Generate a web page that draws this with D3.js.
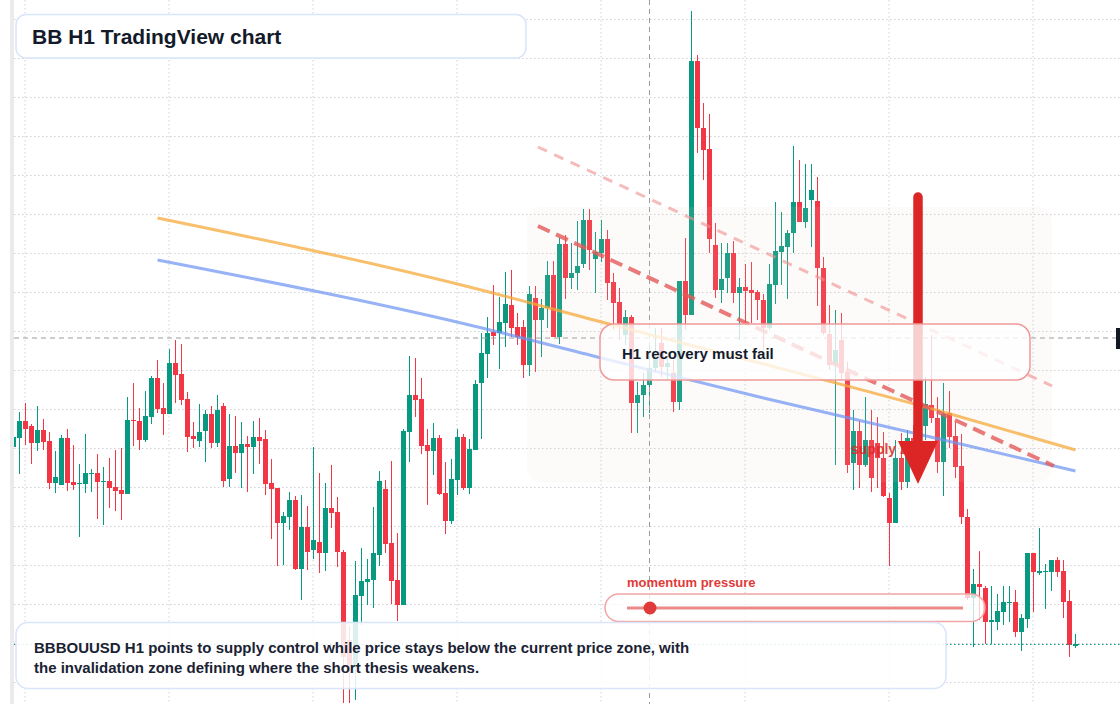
<!DOCTYPE html>
<html>
<head>
<meta charset="utf-8">
<script src="https://cdn.jsdelivr.net/npm/d3@7"></script>
<style>
  body { margin: 0; background: #fff; }
  svg { display: block; font-family: "Liberation Sans", Arial, sans-serif; }
</style>
</head>
<body>
<script>
const W = 1120, H = 704

// candles, one per hour, oldest first
const opens = [3.53,3.62,3.79,3.74,3.57,3.70,3.59,3.17,3.15,3.62, 3.18,3.16,3.16,3.26,3.27,3.18,3.19,3.13,3.10,3.06,
  3.80,3.79,3.60,3.83,4.22,3.92,3.86,4.37,4.26,4.01, 3.64,3.59,3.69,3.86,3.57,3.94,3.21,3.54,3.47,3.56,
  3.53,3.63,3.61,3.17,3.12,2.77,2.83,3.00,2.31,2.73, 2.50,2.58,2.47,2.92,2.88,2.48,1.60,1.33,2.04,2.18,
  2.20,2.45,3.11,2.57,2.20,1.95,3.68,4.05,4.01,3.55, 3.49,3.62,3.07,2.79,3.20,3.63,3.12,3.50,4.17,4.46,
  4.68,4.67,4.77,4.95,4.73,4.73,4.35,5.02,4.80,4.92, 5.25,4.63,5.56,5.22,5.27,5.36,5.80,5.41,5.47,5.61,
  5.18,4.98,4.65,4.83,3.97,4.05,4.15,4.32,4.57,4.33, 4.27,3.98,5.19,4.85,7.39,6.72,6.51,5.55,5.10,5.22,
  5.47,5.07,5.13,5.10,5.08,5.00,4.72,5.15,5.48,5.53, 5.67,5.98,5.78,6.00,5.99,5.32,4.66,4.35,4.60,4.28,
  3.37,3.69,3.35,3.60,3.57,3.42,3.02,2.77,3.42,3.18, 3.62,3.45,3.74,3.95,3.82,3.38,3.87,3.64,3.34,2.83,
  2.02,2.16,2.12,1.78,1.78,1.88,1.97,1.98,1.68,1.81, 2.47,2.27,2.28,2.28,2.40,2.29,1.99,1.54]
const highs = [3.64,3.88,3.97,3.76,3.94,3.81,3.68,3.49,3.65,3.71, 3.55,3.36,3.66,3.31,3.46,3.33,3.42,3.50,3.52,4.03,
  4.17,3.92,4.09,4.24,4.40,4.17,4.51,4.60,4.56,4.08, 3.78,3.96,3.90,3.94,4.05,3.97,3.86,3.84,3.78,3.64,
  3.79,3.82,3.70,3.41,3.12,2.88,3.08,3.04,3.05,2.94, 3.53,3.27,3.17,3.35,3.03,2.50,1.74,2.39,2.52,2.41,
  2.93,3.29,3.20,3.39,2.67,3.71,4.44,4.42,4.22,3.71, 3.77,3.65,3.38,3.41,3.71,3.66,3.61,4.20,4.67,4.83,
  5.15,5.03,5.28,5.30,4.87,4.80,5.14,5.14,5.01,5.39, 5.39,5.62,5.65,5.57,5.79,5.91,5.91,5.68,5.80,5.70,
  5.27,5.12,4.90,4.85,4.18,4.27,4.53,4.72,4.72,4.45, 4.40,5.19,5.62,7.89,7.45,6.97,6.86,5.77,5.57,5.57,
  5.59,5.22,5.36,5.38,5.10,5.06,5.36,5.98,5.88,5.70, 6.54,6.40,6.36,6.36,6.23,5.43,4.95,4.90,4.87,4.38,
  3.90,3.79,4.03,3.90,3.83,3.68,3.07,3.60,3.67,3.70, 3.75,4.00,4.23,4.65,4.03,4.17,4.09,3.78,3.66,2.91,
  2.31,2.49,2.14,2.14,2.06,2.14,2.14,2.10,1.86,2.47, 2.47,2.72,2.36,2.40,2.43,2.40,2.10,1.66]
const lows = [3.52,3.26,3.55,3.36,3.49,3.50,3.11,3.07,3.15,3.09, 3.10,2.63,3.07,3.08,2.81,2.75,2.92,2.89,2.80,3.06,
  3.54,3.50,3.58,3.76,3.87,3.65,3.86,3.97,3.95,3.48, 3.52,3.53,3.38,3.52,3.53,3.13,3.13,3.27,3.12,3.08,
  3.26,3.36,3.05,2.61,2.34,2.35,2.70,2.30,2.00,2.30, 2.41,2.27,2.29,2.72,2.33,0.97,0.97,1.00,1.75,1.95,
  1.92,2.34,2.47,1.96,1.79,1.95,3.38,3.83,3.46,2.95, 3.25,3.05,2.66,2.76,3.05,3.10,3.06,3.50,3.61,4.22,
  4.55,4.31,4.53,4.63,4.55,4.22,4.24,4.28,4.43,4.72, 4.63,4.56,5.01,5.11,5.10,5.32,5.30,5.07,5.38,5.00,
  4.70,4.60,4.55,3.67,3.67,3.83,3.87,4.28,4.23,4.20, 3.88,3.90,4.70,4.85,6.47,6.20,5.47,5.02,4.97,5.07,
  4.97,4.60,4.77,4.77,4.80,4.50,4.70,4.96,5.15,5.01, 5.47,5.78,5.72,5.53,4.94,4.65,4.30,3.35,4.20,3.27,
  3.10,3.12,3.33,3.08,3.12,3.03,2.34,2.77,3.10,3.12, 3.30,3.38,3.60,3.77,3.27,3.04,3.52,3.22,2.76,2.00,
  1.53,1.80,1.56,1.56,1.70,1.75,1.78,1.63,1.49,1.72, 1.88,2.25,1.91,2.09,2.23,1.82,1.43,1.52]
const closes = [3.63,3.79,3.71,3.57,3.70,3.58,3.17,3.23,3.62,3.17, 3.15,3.17,3.27,3.27,3.18,3.19,3.12,3.09,3.06,3.80,
  3.79,3.60,3.84,4.22,3.91,3.86,4.37,4.25,4.00,3.63, 3.61,3.68,3.86,3.57,3.90,3.19,3.54,3.47,3.56,3.53,
  3.63,3.59,3.16,3.11,2.77,2.84,3.00,2.31,2.73,2.48, 2.60,2.47,2.92,2.87,2.48,1.43,1.35,2.05,2.19,2.21,
  2.47,3.19,2.56,2.19,1.95,3.69,4.05,4.00,3.54,3.49, 3.62,3.06,2.79,3.21,3.63,3.12,3.51,4.16,4.47,4.67,
  4.64,4.78,4.96,4.72,4.63,4.35,5.06,4.80,4.92,5.25, 4.63,5.56,5.22,5.27,5.34,5.80,5.50,5.48,5.61,5.17,
  4.97,4.76,4.83,3.97,4.05,4.15,4.32,4.43,4.33,4.37, 3.98,5.19,4.85,7.39,6.72,6.50,5.61,5.10,5.21,5.47,
  5.07,5.13,5.09,5.07,5.00,4.72,5.16,5.49,5.54,5.67, 5.98,5.78,5.92,6.10,5.32,4.67,4.35,4.50,4.27,3.35,
  3.69,3.35,3.60,3.22,3.42,3.04,2.77,3.42,3.18,3.62, 3.45,3.74,3.96,3.82,3.38,3.86,3.63,3.33,2.83,2.02,
  2.16,2.13,1.78,1.80,1.89,1.98,1.98,1.68,1.82,2.47, 2.28,2.29,2.29,2.40,2.28,1.98,1.55,1.56]

// price grid and time grid (bar index)
const gridPrices = [7.81,7.42,7.03,6.64,6.25,5.86,5.47,5.08,4.69,4.30,3.91,3.52,3.13,2.74,2.35,1.96,1.57,1.18]
const gridBars = [2, 26, 50, 74, 98, 122, 146, 170]

// two moving averages, sampled at bar index
const maBars = [24, 76, 98, 125, 155, 177]
const maSlow = [5.82, 5.13, 4.78, 4.36, 3.88, 3.50]
const maFast = [5.40, 4.75, 4.42, 4.02, 3.60, 3.29]

// drawings
const trendMain = [[87.4, 5.74], [173.4, 3.34]]
const trendUpper = [[87.4, 6.53], [173.1, 4.14]]
const zoneBars = [85.6, 173.05]
const zonePrices = [5.93, 3.18]
const arrowBar = 150.75
const arrowPrices = [6.03, 3.59, 3.16]
const crossBar = 106
const crossPrice = 4.62
const lastPrice = 1.56

const candles = opens.map((o, i) => ({ i, o, h: highs[i], l: lows[i], c: closes[i] }))

const x = d3.scaleLinear().domain([0, 177]).range([13.5, 1075.5])
const y = d3.scaleLinear().domain([1, 8]).range([700, 0])

const svg = d3.select('body').append('svg').attr('width', W).attr('height', H)

svg.append('rect').attr('width', W).attr('height', H).attr('fill', '#fff')
svg.append('rect').attr('x', 10).attr('width', 4).attr('height', H).attr('fill', '#ebebeb')

svg.append('clipPath').attr('id', 'plot')
  .append('rect').attr('x', 14).attr('y', 0).attr('width', W - 14).attr('height', H)

const plot = svg.append('g').attr('clip-path', 'url(#plot)')

// grid
plot.append('g').selectAll('line').data(gridPrices).join('line')
  .attr('x1', 14).attr('x2', W)
  .attr('y1', d => Math.round(y(d)) + 0.5).attr('y2', d => Math.round(y(d)) + 0.5)
  .attr('stroke', '#cdd1d6').attr('stroke-dasharray', '1.5,2.5')
plot.append('g').selectAll('line').data(gridBars).join('line')
  .attr('x1', d => x(d) - 0.5).attr('x2', d => x(d) - 0.5)
  .attr('y1', 0).attr('y2', H)
  .attr('stroke', '#cdd1d6').attr('stroke-dasharray', '1.5,2.5')

// candles
const up = '#089981', down = '#f23645'
const cg = plot.append('g')
cg.selectAll('line').data(candles).join('line')
  .attr('x1', d => x(d.i)).attr('x2', d => x(d.i))
  .attr('y1', d => y(d.h)).attr('y2', d => y(d.l))
  .attr('stroke', d => d.c >= d.o ? up : down).attr('stroke-width', 1)
cg.selectAll('rect').data(candles).join('rect')
  .attr('x', d => x(d.i) - 2.5).attr('width', 5)
  .attr('y', d => y(Math.max(d.o, d.c)))
  .attr('height', d => Math.max(1, Math.abs(y(d.o) - y(d.c))))
  .attr('fill', d => d.c >= d.o ? up : down)

// crosshair + last price line
plot.append('line').attr('x1', 14).attr('x2', W).attr('y1', y(crossPrice)).attr('y2', y(crossPrice))
  .attr('stroke', '#9a9a9a').attr('stroke-dasharray', '5,4')
plot.append('line').attr('x1', x(crossBar)).attr('x2', x(crossBar)).attr('y1', 0).attr('y2', H)
  .attr('stroke', '#9a9a9a').attr('stroke-dasharray', '5,4')
plot.append('line').attr('x1', 14).attr('x2', W).attr('y1', y(lastPrice) + 0.5).attr('y2', y(lastPrice) + 0.5)
  .attr('stroke', up).attr('stroke-dasharray', '1.5,2.5')
svg.append('rect').attr('x', 1116).attr('y', y(crossPrice) - 10).attr('width', 8).attr('height', 21)
  .attr('fill', '#131722')

// supply zone
plot.append('rect')
  .attr('x', x(zoneBars[0])).attr('width', x(zoneBars[1]) - x(zoneBars[0]))
  .attr('y', y(zonePrices[0])).attr('height', y(zonePrices[1]) - y(zonePrices[0]))
  .attr('rx', 14).attr('fill', '#f0d8c8').attr('opacity', 0.1)

// moving averages
const maLine = d3.line().x((d, k) => x(maBars[k])).y(d => y(d)).curve(d3.curveMonotoneX)
plot.append('path').attr('d', maLine(maSlow)).attr('fill', 'none')
  .attr('stroke', '#f6a93b').attr('stroke-width', 3).attr('opacity', 0.75)
plot.append('path').attr('d', maLine(maFast)).attr('fill', 'none')
  .attr('stroke', '#6b93f2').attr('stroke-width', 3).attr('opacity', 0.7)

// trend lines
const tl = d3.line().x(d => x(d[0])).y(d => y(d[1]))
plot.append('path').attr('d', tl(trendUpper)).attr('fill', 'none')
  .attr('stroke', '#ef8f8f').attr('stroke-width', 3).attr('stroke-dasharray', '10,8').attr('opacity', 0.6)
plot.append('path').attr('d', tl(trendMain)).attr('fill', 'none')
  .attr('stroke', '#e45a5a').attr('stroke-width', 4).attr('stroke-dasharray', '13,7').attr('opacity', 0.8)

// supply label + arrow
plot.append('text').attr('x', 851).attr('y', 454).text('supply zone')
  .attr('font-size', 14).attr('font-weight', 700).attr('fill', '#dc2626').attr('opacity', 0.85)
const ax = x(arrowBar)
plot.append('line').attr('x1', ax).attr('x2', ax).attr('y1', y(arrowPrices[0])).attr('y2', y(arrowPrices[1]) + 2)
  .attr('stroke', '#dc2626').attr('stroke-width', 9.5).attr('stroke-linecap', 'round')
plot.append('path')
  .attr('d', `M${ax - 20},${y(arrowPrices[1])} L${ax + 20},${y(arrowPrices[1])} L${ax},${y(arrowPrices[2])} Z`)
  .attr('fill', '#dc2626')

// callout boxes
const box = (x0, y0, w, h, r, stroke, fillOp) => svg.append('rect')
  .attr('x', x0).attr('y', y0).attr('width', w).attr('height', h).attr('rx', r)
  .attr('fill', '#fff').attr('fill-opacity', fillOp)
  .attr('stroke', stroke).attr('stroke-width', 1.5)

box(600, 324, 430, 56, 14, '#ef9a9a', 0.78)
svg.append('text').attr('x', 622).attr('y', 359).text('H1 recovery must fail')
  .attr('font-size', 15).attr('font-weight', 700).attr('fill', '#131c2e')

svg.append('text').attr('x', 627).attr('y', 587).text('momentum pressure')
  .attr('font-size', 13).attr('font-weight', 700).attr('fill', '#e03a3a')
box(605, 594, 380, 27.5, 13.75, '#f2a5a5', 0.75)
svg.append('line').attr('x1', 627).attr('x2', 963).attr('y1', 608).attr('y2', 608)
  .attr('stroke', '#e45a5a').attr('stroke-width', 3).attr('opacity', 0.7)
svg.append('circle').attr('cx', 650).attr('cy', 608).attr('r', 6.5).attr('fill', '#e03a3a')

box(16, 622.5, 930, 66, 12, '#d8e5fa', 0.86)
const note = svg.append('text').attr('font-size', 15).attr('font-weight', 700).attr('fill', '#1a2233')
note.append('tspan').attr('x', 34).attr('y', 653)
  .text('BBBOUUSD H1 points to supply control while price stays below the current price zone, with')
note.append('tspan').attr('x', 34).attr('y', 673)
  .text('the invalidation zone defining where the short thesis weakens.')

box(16, 14.5, 510, 43.5, 10, '#d8e5fa', 1)
svg.append('text').attr('x', 32).attr('y', 43.5).text('BB H1 TradingView chart')
  .attr('font-size', 21).attr('font-weight', 700).attr('fill', '#131a2a')
</script>
</body>
</html>
